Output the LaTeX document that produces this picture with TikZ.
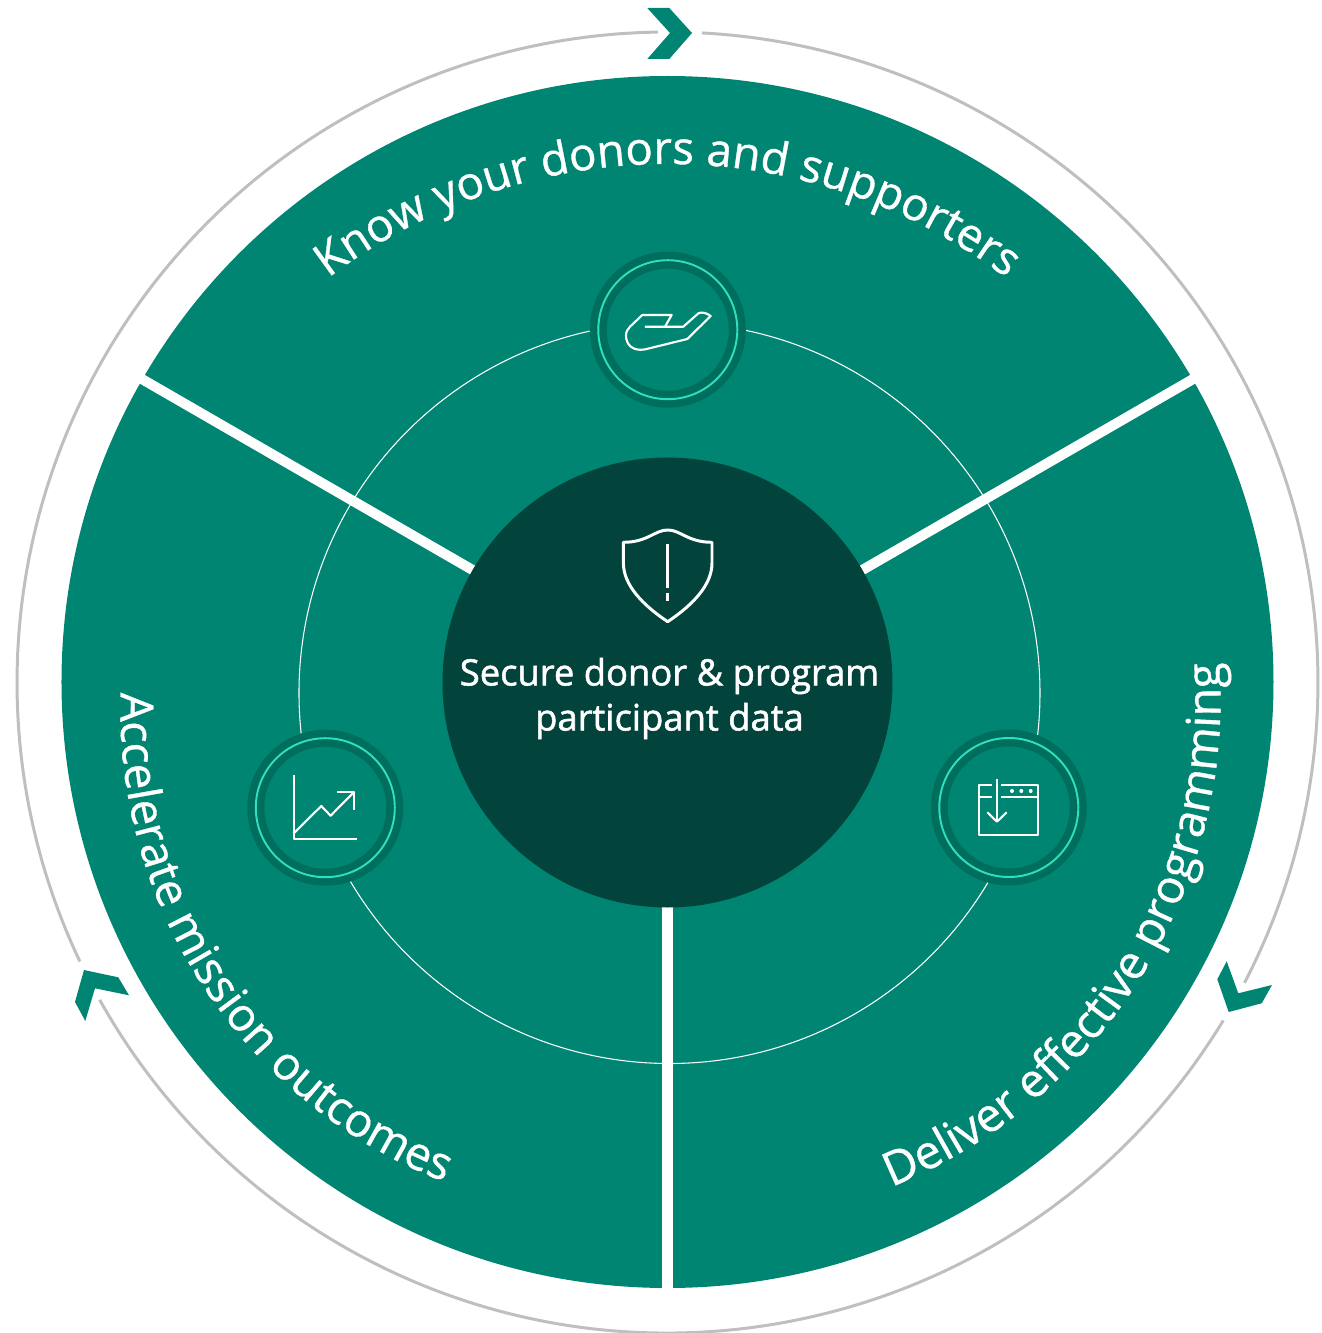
\documentclass[tikz,border=0pt]{standalone}
\usepackage{fontspec}
\setmainfont{Open Sans}
\newfontfamily\corefont[FakeBold=1.5]{Open Sans}
\newfontfamily\arcfont[FakeBold=0.8]{Open Sans}
\usetikzlibrary{positioning,calc,decorations.text}
\definecolor{sectorgreen}{HTML}{008572}
\definecolor{coregreen}{HTML}{02433B}
\definecolor{ringdark}{HTML}{006E5D}
\definecolor{ringlight}{HTML}{2FE0C0}
\definecolor{loopgrey}{HTML}{BFBFBF}
\tikzset{
    spoke/.style={white,line width=2.85pt},
    looparc/.style={loopgrey,line width=0.85pt},
    chevron/.style={fill=sectorgreen},
    badge/.style={circle,draw=ringdark,fill=sectorgreen,line width=0.17cm,minimum size=1.39cm,inner sep=0pt},
    badgeline/.style={circle,draw=ringlight,line width=0.55pt,minimum size=1.39cm,inner sep=0pt},
    icon/.style={white,line width=0.6pt,line join=round},
    arctext/.style 2 args={decorate,decoration={text along path,text align=center,text color=white,text={|\arcfont\fontsize{#1}{15}\selectfont|#2}}}
}
\begin{document}
\begin{tikzpicture}[scale=1]
    \useasboundingbox (-6.675,-6.505) rectangle (6.545,6.825);
    % Disc and inner ring
    \fill[sectorgreen] (0,0.005) circle (6.06);
    \draw[white,line width=0.3pt] (0.02,-0.105) circle (3.705);
    \draw[spoke] (0,0) -- (30:6.2);
    \draw[spoke] (0,0) -- (150:6.2);
    \draw[spoke] (0,0) -- (270:6.2);
    % Outer loop
    \draw[looparc] (86.96:6.505) arc[start angle=86.96,end angle=-27.5,radius=6.505];
    \draw[looparc] (-31.3:6.505) arc[start angle=-31.3,end angle=-150.8,radius=6.505];
    \draw[looparc] (205.4:6.505) arc[start angle=205.4,end angle=90.84,radius=6.505];
    \fill[chevron] (-.202,6.745) -- (.018,6.745) -- (.245,6.495) -- (.018,6.235) -- (-.202,6.235) -- (.025,6.495) -- cycle;
    \fill[chevron] (5.592,-2.788) -- (5.708,-3.108) -- (6.045,-3.025) -- (5.942,-3.208) -- (5.612,-3.295) -- (5.498,-2.968) -- cycle;
    \fill[chevron] (-5.835,-2.875) -- (-5.492,-2.948) -- (-5.385,-3.128) -- (-5.725,-3.058) -- (-5.822,-3.385) -- (-5.925,-3.195) -- cycle;
    % Centre
    \node[circle,fill=coregreen,minimum size=4.5cm,inner sep=0pt] (core) at (0,0) {};
    \node[text=white,align=center,font=\corefont\fontsize{10.35}{12.8}\selectfont] (corelabel) at (0.02,-0.16) {Secure donor \& program\\participant data};
    \begin{scope}[shift={(0.002,1.075)}]
        \draw[white,line width=0.85pt,line join=round] (0,.45) .. controls (-.13,.45) and (-.2,.327) .. (-.443,.327) -- (-.443,.12) .. controls (-.443,-.1) and (-.25,-.3) .. (0,-.467) .. controls (.25,-.3) and (.443,-.1) .. (.443,.12) -- (.443,.327) .. controls (.2,.327) and (.13,.45) .. (0,.45) -- cycle;
        \draw[white,line width=0.85pt] (0,.31) -- (0,-.133);
        \draw[white,line width=0.85pt] (0,-.183) -- (0,-.257);
    \end{scope}
    % Badges
    \node[badge] (hand) at (0.003,3.528) {};
    \node[badgeline] at (hand.center) {};
    \node[badge] (chart) at (-3.422,-1.252) {};
    \node[badgeline] at (chart.center) {};
    \node[badge] (window) at (3.413,-1.25) {};
    \node[badgeline] at (window.center) {};
    % Hand
    \begin{scope}[shift={(hand.center)}]
        \draw[icon] (-.228,.03) -- (.155,.03) -- (.305,.163) .. controls (.33,.18) and (.39,.17) .. (.429,.137) -- (.195,-.093) -- (-.228,-.197) .. controls (-.36,-.22) and (-.418,-.14) .. (-.418,-.06) .. controls (-.418,-.02) and (-.4,.01) .. (-.378,.03) -- (-.255,.147) -- (.039,.147) -- (-.028,.03);
    \end{scope}
    % Chart
    \begin{scope}[shift={(chart.center)}]
        \draw[icon] (-.317,.327) -- (-.317,-.313) -- (.32,-.313);
        \draw[icon] (-.317,-.257) -- (-.04,.017) -- (.053,-.08) -- (.29,.16);
        \draw[icon] (.12,.16) -- (.29,.16) -- (.29,-.02);
    \end{scope}
    % Window
    \begin{scope}[shift={(window.center)}]
        \draw[icon] (-.165,.225) -- (-.301,.225) -- (-.301,-.278) -- (.295,-.278) -- (.295,.225) -- (-.078,.225);
        \draw[icon] (-.301,.108) -- (-.165,.108);
        \draw[icon] (-.078,.108) -- (.295,.108);
        \draw[icon] (-.118,.285) -- (-.118,-.142);
        \draw[icon] (-.215,-.048) -- (-.118,-.142) -- (-.021,-.048);
        \foreach \dotx in {.032,.125,.219} {
            \fill[white] (\dotx,.165) circle (.02);
        }
    \end{scope}
    % Curved labels
    \path[arctext={12.95}{Know your donors and supporters}] (150:5.61) ++(0,-0.425) arc[start angle=150,end angle=30,radius=5.61];
    \path[arctext={13.1}{Accelerate mission outcomes}] (-0.40,-0.265) ++(167:5.07) arc[start angle=167,end angle=260,radius=5.07];
    \path[arctext={13.3}{Deliver effective programming}] (0.26,-0.16) ++(-78:5.27) arc[start angle=-78,end angle=14,radius=5.27];
\end{tikzpicture}
\end{document}
